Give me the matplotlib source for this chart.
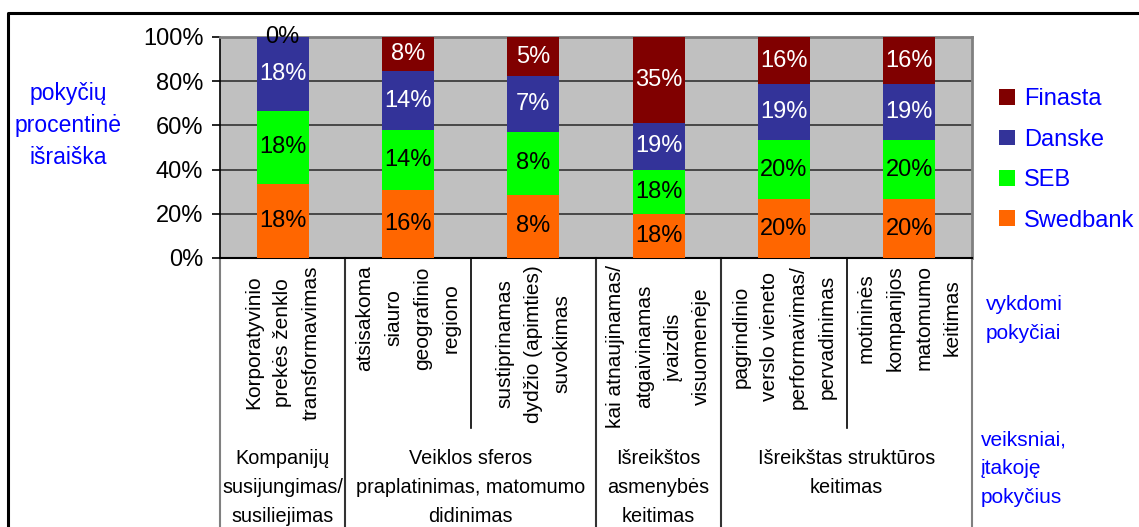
import matplotlib
matplotlib.use('Agg')
import matplotlib.pyplot as plt
import matplotlib.transforms as mtransforms
import numpy as np

plt.rcParams['font.family'] = ['Liberation Sans', 'DejaVu Sans']

# data
change_labels = ['Korporatyvinio\nprekės ženklo\ntransformavimas',
                 'atsisakoma\nsiauro\ngeografinio\nregiono',
                 'sustiprinamas\ndydžio (apimties)\nsuvokimas',
                 'kai atnaujinamas/\natgaivinamas\nįvaizdis\nvisuomenėje',
                 'pagrindinio\nverslo vieneto\nperformavimas/\npervadinimas',
                 'motininės\nkompanijos\nmatomumo\nkeitimas']
group_labels = ['Kompanijų\nsusijungimas/\nsusiliejimas',
                'Veiklos sferos\npraplatinimas, matomumo\ndidinimas',
                'Išreikštos\nasmenybės\nkeitimas',
                'Išreikštas struktūros\nkeitimas']
group_spans = [(0, 0), (1, 2), (3, 3), (4, 5)]

banks = ['Swedbank', 'SEB', 'Danske', 'Finasta']
swedbank = [18, 16, 8, 18, 20, 20]
seb = [18, 14, 8, 18, 20, 20]
danske = [18, 14, 7, 19, 19, 19]
finasta = [0, 8, 5, 35, 16, 16]
colors = ['#FF6600', '#00FF00', '#333399', '#800000']
text_colors = ['black', 'black', 'white', 'white']

W, H = 1139, 527
fig = plt.figure(figsize=(W / 100, H / 100), dpi=100)
ax = fig.add_axes([220 / W, 1 - 258 / H, 752 / W, 221 / H])


def fy(y):
    return 1 - y / H


def fx(x):
    return x / W


values = np.array([swedbank, seb, danske, finasta], dtype=float)
shares = values / values.sum(axis=0) * 100
x = np.arange(len(change_labels))
bottom = np.zeros(len(x))
for i, name in enumerate(banks):
    ax.bar(x, shares[i], 0.415, bottom=bottom, color=colors[i], label=name, zorder=3)
    for j in range(len(x)):
        yc = bottom[j] + shares[i][j] / 2
        c = text_colors[i] if values[i][j] > 0 else 'black'
        ax.text(x[j], yc, '%d%%' % values[i][j], ha='center', va='center',
                fontsize=17, color=c, zorder=4)
    bottom += shares[i]

ax.set_xlim(-0.5, 5.5)
ax.set_ylim(0, 100)
ax.set_facecolor('#C0C0C0')
ax.set_yticks(np.arange(0, 101, 20))
ax.set_yticklabels(['%d%%' % v for v in range(0, 101, 20)], fontsize=17)
ax.tick_params(axis='y', length=6, width=1.2, pad=6, color='black')
ax.set_xticks([])
ax.grid(axis='y', color='#333333', linewidth=1.2, zorder=1)
for s in ['top', 'right']:
    ax.spines[s].set_color('#808080')
    ax.spines[s].set_linewidth(2)
ax.spines['left'].set_color('black')
ax.spines['bottom'].set_color('black')
ax.spines['left'].set_linewidth(1.2)
ax.spines['bottom'].set_linewidth(1.5)

# category table below the plot
trans = mtransforms.blended_transform_factory(ax.transData, fig.transFigure)
full_lines = [-0.5, 0.5, 2.5, 3.5, 5.5]
half_lines = [1.5, 4.5]
for xb in full_lines:
    c = '#808080' if xb in (-0.5, 5.5) else '#333333'
    ax.plot([xb, xb], [fy(258), 0], transform=trans, color=c, lw=1.5, clip_on=False)
for xb in half_lines:
    ax.plot([xb, xb], [fy(258), fy(428)], transform=trans, color='black', lw=1.2, clip_on=False)

for j, lab in enumerate(change_labels):
    ax.text(x[j], fy(265), lab, transform=trans, rotation=90, ha='center', va='top',
            multialignment='center', fontsize=15, linespacing=1.65)

for (a, b), lab in zip(group_spans, group_labels):
    ax.text((a + b) / 2, fy(449), lab, transform=trans, ha='center', va='top',
            multialignment='center', fontsize=14.3, linespacing=1.65)

# side labels
fig.text(fx(68), fy(126), 'pokyčių\nprocentinė\nišraiška', ha='center', va='center',
         color='blue', fontsize=16.5, linespacing=1.5)
fig.text(fx(986), fy(319), 'vykdomi\npokyčiai', ha='left', va='center',
         color='blue', fontsize=15, linespacing=1.65)
fig.text(fx(981), fy(469), 'veiksniai,\nįtakoję\npokyčius', ha='left', va='center',
         color='blue', fontsize=15, linespacing=1.65)

# legend
handles, labels = ax.get_legend_handles_labels()
leg = fig.legend(handles[::-1], labels[::-1], loc='center left',
                 bbox_to_anchor=(fx(990), fy(160)), frameon=False, fontsize=17,
                 labelcolor='blue', handlelength=0.65, handleheight=0.65,
                 handletextpad=0.4, labelspacing=0.78, borderaxespad=0)

# outer frame
fig.add_artist(plt.Line2D([fx(8), fx(8), 1], [0, fy(13), fy(13)], color='black', lw=2.2))

plt.savefig('out.png', dpi=100)
plt.close()
